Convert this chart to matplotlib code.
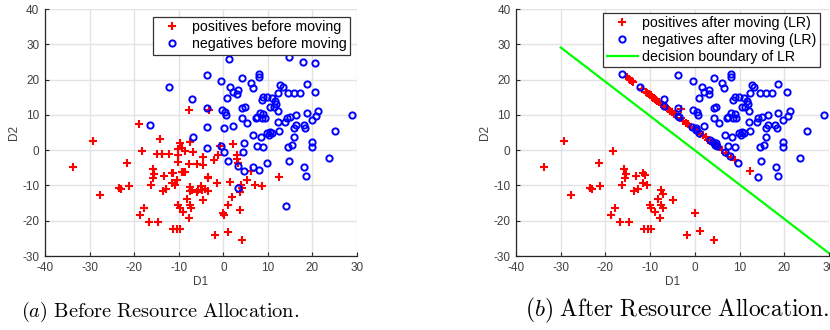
import matplotlib.pyplot as plt

plt.rcParams['font.family'] = ['Liberation Sans', 'DejaVu Sans']
plt.rcParams['mathtext.fontset'] = 'cm'
plt.rcParams['axes.unicode_minus'] = False

# positives / negatives before moving
pos_before_x = [-33.8, -29.3, -27.6, -23.5, -23.0, -21.1, -21.5, -19.0, -18.3, -18.7, -17.8, -16.7,
                -16.3, -15.8, -15.5, -15.7, -14.7, -14.2, -14.9, -13.8, -13.6, -12.8, -13.2, -12.1,
                -11.6, -11.2, -11.6, -10.8, -11.3, -10.5, -9.7, -10.1, -10.1, -10.1, -9.7, -9.3,
                -10.5, -10.1, -9.7, -9.0, -9.3, -8.8, -8.6, -8.6, -8.2, -7.8, -7.5, -7.8,
                -7.8, -7.5, -7.1, -7.5, -7.2, -6.7, -6.0, -5.6, -4.8, -5.0, -4.5, -4.5,
                -4.5, -4.1, -3.4, -3.4, -3.2, -3.4, -2.2, -1.1, -1.5, -1.9, -0.7, 0.0,
                0.2, 1.1, 1.1, 1.5, 1.9, 2.2, 3.0, 3.1, 3.4, 3.8, 3.8, 4.1,
                4.1, 3.9, 5.2, 6.2, 7.1, 8.6, 12.4, -6.0, -7.4]
pos_before_y = [-4.8, 2.5, -12.7, -10.6, -10.9, -10.1, -3.5, 7.4, -0.3, -18.4, -16.5, -20.5,
                -9.9, -5.3, -6.8, -8.0, -20.5, 3.2, -1.1, -1.1, -11.5, -11.1, -7.4, -1.1,
                -6.6, -6.6, -9.4, -9.9, -22.3, -22.3, -22.3, 0.4, -1.4, -3.3, 1.9, 0.5,
                -8.5, -15.5, -16.5, -17.4, -6.1, -6.3, -6.1, -0.1, -13.8, -19.3, 2.4, 11.4,
                -3.9, -10.4, -11.3, -15.5, -16.5, -0.4, -3.9, -11.3, -11.3, -10.3, -14.1, -1.9,
                -4.2, -11.1, -7.5, -7.9, 11.4, -11.7, -2.8, -1.4, -9.4, -24.0, 1.3, -17.9,
                -18.4, -23.1, -15.5, -8.9, -13.2, 1.7, -1.3, -2.6, -3.7, -11.8, -17.0, -25.5,
                -10.8, -9.8, -8.5, -6.0, -9.9, -10.2, -7.5, -11.8, -11.6]

neg_before_x = [-16.4, -12.2, -7.0, -6.7, -3.7, -3.7, -3.7, -3.6, -0.6, -0.5, -0.3, 0.2,
                0.2, 0.4, 0.7, 0.9, 1.0, 1.3, 1.5, 2.1, 2.1, 3.1, 3.2, 3.2,
                3.4, 4.2, 4.2, 4.8, 4.2, 4.5, 4.7, 4.7, 5.4, 6.1, 6.6, 6.7,
                6.7, 7.5, 7.3, 7.5, 7.9, 8.1, 8.1, 8.2, 8.4, 8.6, 8.6, 9.0,
                9.0, 9.0, 9.3, 9.7, 9.8, 9.9, 10.5, 10.3, 10.9, 10.5, 10.9, 11.3,
                11.7, 11.9, 12.2, 12.2, 12.3, 12.4, 12.7, 13.3, 13.8, 14.2, 14.1, 14.6,
                14.6, 14.7, 14.8, 15.0, 15.4, 15.9, 15.9, 15.9, 16.3, 16.3, 17.2, 17.9,
                18.0, 18.4, 18.2, 18.5, 18.7, 18.7, 19.8, 19.8, 19.8, 20.6, 20.6, 20.8,
                21.3, 23.6, 25.1, 28.8]
neg_before_y = [7.2, 17.9, 14.4, 3.8, 21.3, 11.9, 6.5, 0.5, 1.2, 19.5, 11.4, 6.2,
                -0.6, 10.9, 10.0, 14.7, -3.0, 25.8, 18.0, 16.6, 6.8, 15.8, 17.0, -4.5,
                -10.8, 20.4, 11.9, 12.1, 9.0, -0.6, 2.0, -5.8, 7.8, 19.1, 17.7, 4.3,
                -4.9, 9.5, 9.0, 1.3, -5.6, 21.5, 20.8, 10.6, 3.6, 14.2, 9.0, 15.2,
                10.2, 1.0, 9.0, -3.7, 15.0, 4.8, 5.2, 4.3, 5.0, 12.3, 14.7, 12.3,
                14.0, 13.1, 11.2, 8.1, 16.3, 5.5, 18.5, 18.0, 8.1, 9.0, -15.8, 16.1,
                1.0, 26.4, -3.0, 9.3, 1.5, 16.1, 6.2, 3.8, 10.0, 7.1, 16.3, 25.1,
                7.1, 6.2, -4.7, -7.3, 18.7, 10.6, 8.5, 2.4, 0.8, 24.6, 16.6, 9.7,
                11.2, -2.1, 5.4, 10.0]

# positives / negatives after moving (LR)
pos_after_x = [-33.8, -29.3, -27.6, -23.5, -23.0, -21.1, -21.5, -18.3, -18.7, -17.8, -16.7, -16.3,
               -15.8, -15.5, -15.7, -14.7, -13.6, -12.8, -13.2, -11.6, -11.2, -11.6, -10.8, -11.3,
               -10.5, -9.7, -10.1, -9.7, -9.0, -7.8, -8.2, -7.5, -7.1, -7.5, -7.2, -4.8,
               0.0, -1.7, 1.1, 4.3, -3.2,
               -15.2, -14.8, -14.5, -14.1, -13.8, -11.8, -11.0, -10.6, -10.2, -9.9, -9.6, -9.3,
               -9.0, -8.7, -8.4, -8.0, -7.6, -7.2, -6.4, -5.9, -5.5, -5.0, -4.6, -4.1,
               -3.2, -2.6, -2.0, -1.5, -0.8, -0.2, 0.5, 1.2, 1.8, 2.4, 3.0, 3.5,
               4.0, 4.6, 5.3, 6.0, 7.0, 8.0, 9.0, 12.4]
pos_after_y = [-4.8, 2.5, -12.7, -10.6, -10.9, -10.1, -3.5, -0.3, -18.4, -16.5, -20.5, -9.9,
               -5.3, -6.8, -8.0, -20.5, -11.5, -11.1, -7.4, -6.6, -6.9, -9.4, -9.9, -22.3,
               -22.3, -22.3, -15.5, -16.5, -17.4, -19.3, -13.8, -11.2, -12.3, -15.5, -16.5, -14.2,
               -17.9, -24.0, -22.9, -25.4, 11.6,
               20.6, 20.3, 20.0, 19.5, 19.2, 17.3, 16.5, 16.1, 15.8, 15.5, 15.2, 14.9,
               14.6, 14.3, 14.0, 13.6, 13.2, 12.8, 12.1, 11.6, 11.2, 10.7, 10.3, 9.9,
               9.0, 8.4, 7.8, 7.3, 6.7, 6.1, 5.4, 4.7, 4.2, 3.6, 3.0, 2.5,
               2.0, 1.4, 0.8, 0.1, -0.9, -1.8, -2.8, -6.0]

neg_after_x = [-16.4, -12.2, -7.0, -6.8, -3.7, -3.7, -3.7, -3.6, -0.6, -0.5, -0.3, 0.2,
               0.3, 0.4, 0.7, 0.9, 1.0, 1.3, 1.5, 2.1, 2.1, 3.1, 3.2, 3.3,
               4.1, 4.2, 4.2, 4.8, 4.2, 4.5, 4.7, 4.9, 5.4, 6.1, 6.6, 6.7,
               6.7, 7.5, 7.3, 7.5, 7.8, 8.1, 8.1, 8.2, 8.4, 8.6, 8.6, 9.0,
               9.0, 9.0, 9.3, 9.7, 9.8, 9.9, 10.5, 10.3, 10.9, 10.5, 10.9, 11.3,
               11.7, 11.9, 12.2, 12.2, 12.3, 12.4, 12.7, 13.3, 13.8, 14.2, 14.1, 14.6,
               14.6, 14.7, 14.8, 15.0, 15.4, 15.9, 15.9, 15.9, 16.3, 16.3, 17.2, 17.9,
               18.0, 18.4, 18.2, 18.5, 18.7, 18.7, 19.8, 19.8, 19.8, 20.6, 20.6, 20.8,
               21.3, 23.6, 25.1, 28.8]
neg_after_y = [21.7, 17.9, 14.4, 12.6, 21.3, 11.9, 9.6, 9.4, 6.5, 19.5, 11.4, 6.2,
               5.6, 10.9, 10.0, 14.7, 4.9, 25.8, 18.0, 16.6, 6.8, 15.8, 17.0, 2.9,
               2.4, 20.4, 11.9, 12.1, 9.0, 1.6, 2.0, 1.2, 7.8, 19.1, 17.7, 4.3,
               -0.6, 9.5, 9.0, 1.3, -1.6, 21.5, 20.8, 10.6, 3.6, 14.2, 9.0, 15.2,
               10.2, 1.0, 9.0, -3.7, 15.0, 4.8, 5.2, 4.3, 5.0, 12.3, 14.7, 12.3,
               14.0, 13.1, 11.2, 8.1, 16.3, 5.5, 18.5, 18.0, 8.1, 9.0, -7.7, 16.1,
               1.0, 26.4, -3.0, 9.3, 1.5, 16.1, 6.2, 3.8, 10.0, 7.1, 16.3, 25.1,
               7.1, 6.2, -4.7, -7.3, 18.7, 10.6, 8.5, 2.4, 0.8, 24.6, 16.6, 9.7,
               11.2, -2.1, 5.4, 10.0]

boundary_x = [-30, 30]
boundary_y = [29.1, -29.2]

captions = [r'$(a)\ \mathrm{Before\ Resource\ Allocation.}$',
            r'$(b)\ \mathrm{After\ Resource\ Allocation.}$']

axis_col = '#262626'


def style_axes(ax):
    ax.set_xlim(-40, 30)
    ax.set_ylim(-30, 40)
    ax.set_xticks(range(-40, 31, 10))
    ax.set_yticks(range(-30, 41, 10))
    ax.grid(True, color='#e3e3e3', linewidth=1)
    ax.set_axisbelow(True)
    for s in ['top', 'right']:
        ax.spines[s].set_visible(False)
    for s in ['left', 'bottom']:
        ax.spines[s].set_color(axis_col)
        ax.spines[s].set_linewidth(0.9)
    ax.tick_params(direction='in', length=3, width=0.8, colors=axis_col,
                   labelsize=8.5, labelcolor='#404040', pad=4)
    ax.set_xlabel('D1', fontsize=8.5, color='#404040', labelpad=2)
    ax.set_ylabel('D2', fontsize=8.5, color='#404040', labelpad=2)


def add_legend(ax, anchor):
    leg = ax.legend(loc='upper right', bbox_to_anchor=anchor, borderaxespad=0,
                    fontsize=10.2, fancybox=False, framealpha=1, edgecolor='#333333',
                    handlelength=2.2, handletextpad=0.3, borderpad=0.25, labelspacing=0.2)
    leg.get_frame().set_linewidth(0.9)


fig = plt.figure(figsize=(8.3, 3.3), dpi=100)

ax1 = fig.add_axes([0.0542, 0.2242, 0.376, 0.7485])
ax1.plot(pos_before_x, pos_before_y, 'r+', markersize=6, markeredgewidth=1.5,
         label='positives before moving')
ax1.plot(neg_before_x, neg_before_y, 'o', color='b', markerfacecolor='none', markersize=4.5,
         markeredgewidth=1.4, label='negatives before moving')
style_axes(ax1)
add_legend(ax1, (0.978, 0.968))

ax2 = fig.add_axes([0.6217, 0.2242, 0.377, 0.7485])
ax2.plot(pos_after_x, pos_after_y, 'r+', markersize=6, markeredgewidth=1.5,
         label='positives after moving (LR)')
ax2.plot(neg_after_x, neg_after_y, 'o', color='b', markerfacecolor='none', markersize=4.5,
         markeredgewidth=1.4, label='negatives after moving (LR)')
ax2.plot(boundary_x, boundary_y, '-', color='#00ff00', linewidth=1.6,
         label='decision boundary of LR')
style_axes(ax2)
add_legend(ax2, (0.971, 0.985))

fig.text(0.193, 0.04, captions[0], fontsize=14.7, ha='center', va='baseline')
fig.text(0.632, 0.04, captions[1], fontsize=16.8, ha='left', va='baseline')

fig.savefig('out.png', dpi=100)
